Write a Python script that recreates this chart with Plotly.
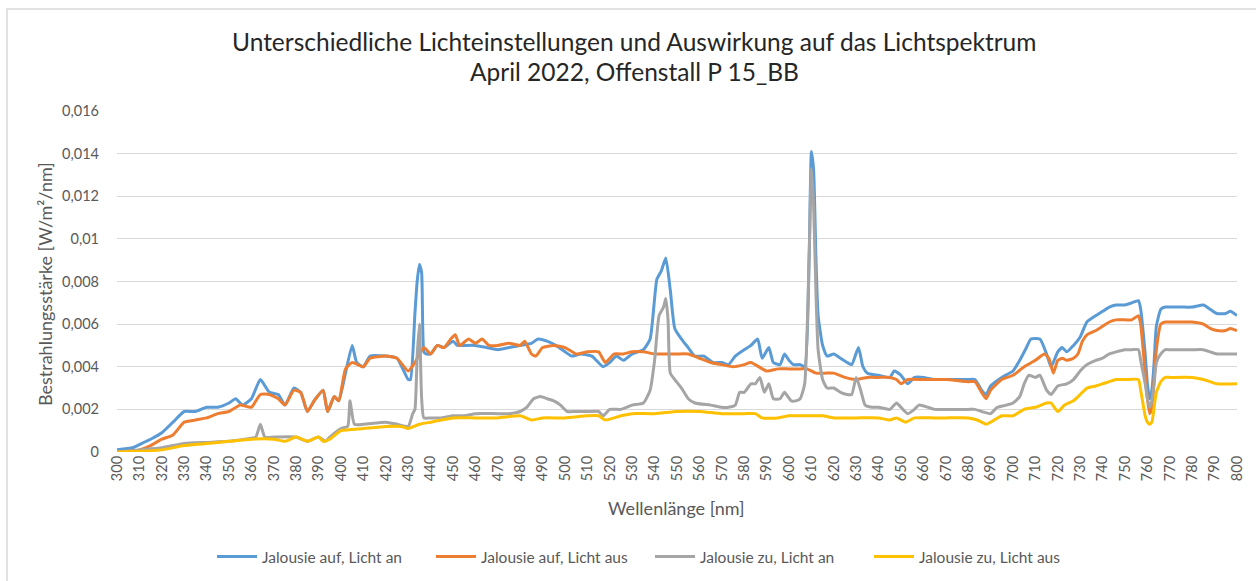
import plotly.graph_objects as go

# ---------------- data ----------------
title_lines = ["Unterschiedliche Lichteinstellungen und Auswirkung auf das Lichtspektrum",
               "April 2022, Offenstall P 15_BB"]
series_names = ["Jalousie auf, Licht an", "Jalousie auf, Licht aus",
                "Jalousie zu, Licht an", "Jalousie zu, Licht aus"]
series_colors = ["#5B9BD5", "#ED7D31", "#A5A5A5", "#FFC000"]

wl_auf_an = [300, 307, 310, 315, 320, 325, 330, 335, 340, 345, 350, 353, 356, 360, 364, 368, 372, 375,
             379, 382, 385, 388, 392, 394, 397, 399, 402, 405, 407, 410, 413, 420, 425, 430, 431, 433,
             434, 435, 436, 437, 438, 440, 443, 446, 450, 452, 455, 460, 465, 470, 475, 480, 485, 488,
             492, 496, 500, 503, 507, 512, 517, 520, 523, 526, 530, 535, 538, 541, 543, 545, 547, 549,
             552, 555, 558, 562, 566, 570, 573, 576, 580, 583, 586, 588, 591, 593, 596, 598, 600, 602,
             605, 607, 609, 610, 611, 612, 613, 615, 617, 620, 623, 626, 628, 631, 633, 635, 640, 645,
             647, 650, 653, 656, 660, 665, 670, 680, 683, 686, 688, 690, 695, 700, 703, 706, 708, 712,
             715, 717, 720, 722, 724, 727, 730, 733, 737, 740, 743, 746, 750, 753, 756, 757, 759, 760,
             761, 762, 763, 764, 766, 768, 770, 775, 780, 785, 788, 791, 795, 797, 800]
val_auf_an = [0.0001, 0.0002, 0.00035, 0.0006, 0.0009, 0.0014, 0.0019, 0.0019, 0.0021, 0.0021, 0.0023,
              0.0025, 0.0022, 0.0025, 0.0034, 0.0028, 0.0027, 0.0022, 0.0030, 0.0028, 0.0019, 0.0024,
              0.0029, 0.0019, 0.0026, 0.0024, 0.0037, 0.0050, 0.0042, 0.0040, 0.0045, 0.0045, 0.0044,
              0.0034, 0.0034, 0.0065, 0.0080, 0.0088, 0.0084, 0.0047, 0.0046, 0.0046, 0.0050, 0.0049,
              0.0052, 0.0050, 0.0050, 0.0050, 0.0049, 0.0048, 0.0049, 0.0050, 0.0051, 0.0053, 0.0052,
              0.0050, 0.0047, 0.0045, 0.0046, 0.0045, 0.0040, 0.0042, 0.0045, 0.0043, 0.0046, 0.0048,
              0.0053, 0.0081, 0.0085, 0.0091, 0.0076, 0.0058, 0.0053, 0.0049, 0.0045, 0.0045, 0.0042,
              0.0042, 0.0041, 0.0045, 0.0048, 0.0050, 0.0053, 0.0044, 0.0049, 0.0042, 0.0041, 0.0046,
              0.0043, 0.0041, 0.0041, 0.0040, 0.0092, 0.0141, 0.0132, 0.0092, 0.0064, 0.0050, 0.0045,
              0.0046, 0.0044, 0.0042, 0.0041, 0.0049, 0.0040, 0.0037, 0.0036, 0.0035, 0.0038, 0.0036,
              0.0032, 0.0035, 0.0035, 0.0034, 0.0034, 0.0034, 0.0034, 0.0029, 0.0027, 0.0031, 0.0035,
              0.0038, 0.0043, 0.0049, 0.0053, 0.0053, 0.0046, 0.0040, 0.0047, 0.0049, 0.0047, 0.0050,
              0.0054, 0.0061, 0.0064, 0.0066, 0.0068, 0.0069, 0.0069, 0.0070, 0.0071, 0.0067, 0.0046,
              0.0032, 0.0025, 0.0029, 0.0042, 0.0059, 0.0067, 0.0068, 0.0068, 0.0068, 0.0068, 0.0069,
              0.0067, 0.0065, 0.0065, 0.0066, 0.0064]

wl_auf_aus = [300, 310, 315, 320, 325, 330, 335, 340, 345, 350, 355, 360, 364, 368, 372, 375, 379, 382,
              385, 388, 392, 394, 397, 399, 402, 405, 410, 413, 420, 425, 430, 433, 437, 440, 443, 446,
              449, 451, 453, 457, 460, 463, 466, 470, 475, 480, 482, 485, 487, 490, 495, 500, 505, 510,
              515, 518, 522, 526, 530, 535, 540, 545, 550, 555, 560, 565, 570, 575, 580, 583, 590, 595,
              600, 605, 608, 612, 616, 620, 625, 630, 635, 640, 645, 648, 650, 653, 660, 670, 680, 683,
              686, 688, 690, 695, 700, 705, 710, 714, 716, 718, 720, 722, 724, 727, 729, 731, 733, 737,
              740, 743, 746, 750, 753, 756, 757, 759, 760, 761, 762, 763, 764, 766, 768, 770, 775, 780,
              785, 788, 791, 795, 797, 800]
val_auf_aus = [0.0000, 0.0001, 0.0003, 0.0006, 0.0008, 0.0014, 0.0015, 0.0016, 0.0018, 0.0019, 0.0022,
               0.0021, 0.0027, 0.0027, 0.0025, 0.0022, 0.0029, 0.0028, 0.0019, 0.0024, 0.0029, 0.0019,
               0.0026, 0.0024, 0.0039, 0.0042, 0.0040, 0.0044, 0.0045, 0.0044, 0.0038, 0.0042, 0.0049,
               0.0046, 0.0050, 0.0049, 0.0053, 0.0055, 0.0050, 0.0053, 0.0051, 0.0053, 0.0050, 0.0050,
               0.0051, 0.0050, 0.0052, 0.0046, 0.0045, 0.0049, 0.0050, 0.0049, 0.0046, 0.0047, 0.0047,
               0.0042, 0.0046, 0.0046, 0.0047, 0.0047, 0.0046, 0.0046, 0.0046, 0.0046, 0.0044, 0.0042,
               0.0041, 0.0040, 0.0041, 0.0042, 0.0038, 0.0039, 0.0039, 0.0039, 0.0039, 0.0037, 0.0037,
               0.0037, 0.0035, 0.0034, 0.0035, 0.0035, 0.0035, 0.0034, 0.0032, 0.0034, 0.0034, 0.0034,
               0.0033, 0.0033, 0.0028, 0.0025, 0.0029, 0.0034, 0.0036, 0.0040, 0.0043, 0.0046, 0.0044,
               0.0037, 0.0043, 0.0044, 0.0043, 0.0044, 0.0046, 0.0052, 0.0055, 0.0057, 0.0059, 0.0061,
               0.0062, 0.0062, 0.0062, 0.0064, 0.0060, 0.0037, 0.0025, 0.0018, 0.0021, 0.0034, 0.0048,
               0.0060, 0.0061, 0.0061, 0.0061, 0.0061, 0.0060, 0.0058, 0.0057, 0.0057, 0.0058, 0.0057]

wl_zu_an = [300, 310, 320, 330, 340, 350, 360, 362, 364, 366, 370, 380, 385, 390, 393, 395, 400, 403,
            404, 406, 410, 420, 425, 430, 432, 433, 434, 435, 436, 437, 440, 445, 450, 455, 460, 470,
            475, 480, 483, 486, 489, 492, 495, 498, 501, 505, 510, 515, 517, 520, 525, 530, 535, 538,
            540, 542, 544, 545, 546, 547, 549, 552, 555, 558, 565, 570, 573, 576, 578, 580, 583, 585,
            587, 589, 591, 593, 596, 598, 601, 603, 605, 607, 609, 610, 611, 612, 613, 615, 617, 620,
            623, 626, 628, 630, 632, 634, 637, 640, 645, 648, 650, 653, 656, 658, 662, 665, 670, 680,
            683, 686, 690, 693, 697, 700, 703, 705, 707, 710, 712, 715, 717, 720, 724, 727, 730, 733,
            737, 740, 743, 746, 750, 753, 756, 757, 759, 760, 761, 762, 763, 764, 766, 768, 770, 780,
            785, 788, 791, 795, 797, 800]
val_zu_an = [0.0000, 0.0001, 0.0002, 0.0004, 0.00045, 0.0005, 0.00065, 0.0007, 0.0013, 0.0007, 0.0007,
             0.0007, 0.0005, 0.0007, 0.0005, 0.0007, 0.0011, 0.0012, 0.0024, 0.0013, 0.0013, 0.0014,
             0.0013, 0.0012, 0.0018, 0.0020, 0.0045, 0.0060, 0.0025, 0.0016, 0.0016, 0.0016, 0.0017,
             0.0017, 0.0018, 0.0018, 0.0018, 0.0019, 0.0021, 0.0025, 0.0026, 0.0025, 0.0024, 0.0022,
             0.0019, 0.0019, 0.0019, 0.0019, 0.0017, 0.0020, 0.0020, 0.0022, 0.0023, 0.0029, 0.0043,
             0.0064, 0.0068, 0.0072, 0.0062, 0.0037, 0.0034, 0.0030, 0.0025, 0.0023, 0.0022, 0.0021,
             0.0021, 0.0022, 0.0028, 0.0028, 0.0032, 0.0032, 0.0035, 0.0028, 0.0032, 0.0025, 0.0025,
             0.0028, 0.0024, 0.0024, 0.0025, 0.0032, 0.0092, 0.0133, 0.0115, 0.0076, 0.0048, 0.0034,
             0.0030, 0.0030, 0.0028, 0.0027, 0.0027, 0.0035, 0.0029, 0.0022, 0.0021, 0.0021, 0.0020,
             0.0023, 0.0021, 0.0018, 0.0020, 0.0022, 0.0021, 0.0020, 0.0020, 0.0020, 0.0020, 0.0019,
             0.0018, 0.0021, 0.0022, 0.0023, 0.0026, 0.0032, 0.0036, 0.0035, 0.0036, 0.0029, 0.0027,
             0.0031, 0.0032, 0.0034, 0.0038, 0.0041, 0.0043, 0.0044, 0.0046, 0.0047, 0.0048, 0.0048,
             0.0048, 0.0043, 0.0032, 0.0025, 0.0021, 0.0024, 0.0032, 0.0042, 0.0046, 0.0048, 0.0048,
             0.0048, 0.0048, 0.0047, 0.0046, 0.0046, 0.0046, 0.0046]

wl_zu_aus = [300, 310, 320, 330, 340, 350, 360, 370, 375, 380, 385, 390, 392, 395, 400, 410, 420, 427,
             430, 435, 440, 445, 450, 460, 470, 480, 485, 490, 500, 510, 515, 518, 525, 530, 540, 550,
             560, 570, 580, 585, 588, 595, 600, 605, 610, 615, 620, 630, 640, 645, 648, 652, 656, 665,
             670, 680, 684, 686, 688, 690, 695, 700, 705, 710, 715, 717, 720, 723, 727, 730, 733, 737,
             740, 743, 746, 750, 756, 757, 759, 760, 761, 762, 763, 764, 766, 768, 770, 780, 785, 788,
             791, 800]
val_zu_aus = [0.0000, 0.00003, 0.0001, 0.0003, 0.0004, 0.0005, 0.0006, 0.0006, 0.0005, 0.0007, 0.0005,
              0.0007, 0.0005, 0.0006, 0.0010, 0.0011, 0.0012, 0.0012, 0.0011, 0.0013, 0.0014, 0.0015,
              0.0016, 0.0016, 0.0016, 0.0017, 0.0015, 0.0016, 0.0016, 0.0017, 0.0017, 0.0015, 0.0017,
              0.0018, 0.0018, 0.0019, 0.0019, 0.0018, 0.0018, 0.0018, 0.0016, 0.0016, 0.0017, 0.0017,
              0.0017, 0.0017, 0.0016, 0.0016, 0.0016, 0.0015, 0.0016, 0.0014, 0.0016, 0.0016, 0.0016,
              0.0016, 0.0015, 0.0014, 0.0013, 0.0014, 0.0017, 0.0017, 0.0020, 0.0021, 0.0023, 0.0023,
              0.0019, 0.0022, 0.0024, 0.0027, 0.0030, 0.0031, 0.0032, 0.0033, 0.0034, 0.0034, 0.0034,
              0.0029, 0.0017, 0.0014, 0.0013, 0.0014, 0.0021, 0.0028, 0.0033, 0.0035, 0.0035, 0.0035,
              0.0034, 0.0033, 0.0032, 0.0032]

x_ticks = list(range(300, 801, 10))
y_ticks = [0, 0.002, 0.004, 0.006, 0.008, 0.01, 0.012, 0.014, 0.016]

# ---------------- figure ----------------
FONT = "Lato, 'Open Sans', sans-serif"
TXT = "#595959"

fig = go.Figure()
for name, color, xs, ys in zip(series_names, series_colors,
                               [wl_auf_an, wl_auf_aus, wl_zu_an, wl_zu_aus],
                               [val_auf_an, val_auf_aus, val_zu_an, val_zu_aus]):
    fig.add_trace(go.Scatter(x=xs, y=ys, mode="lines", name=name,
                             line=dict(color=color, width=3, shape="spline", smoothing=0.5)))

W, H = 1256, 581
L, R, T, B = 117, 19, 111, 129
pw, ph = W - L - R, H - T - B

def px_x(p):
    return (p - L) / pw

def px_y(p):
    return (H - B - p) / ph

annotations = [
    dict(text=title_lines[0], xref="paper", yref="paper", x=px_x(634), y=px_y(42),
         xanchor="center", yanchor="middle", showarrow=False,
         font=dict(size=24.5, color="#262626", family=FONT)),
    dict(text=title_lines[1], xref="paper", yref="paper", x=px_x(634), y=px_y(71),
         xanchor="center", yanchor="middle", showarrow=False,
         font=dict(size=24.5, color="#262626", family=FONT)),
    dict(text="Wellenlänge [nm]", xref="paper", yref="paper", x=px_x(676), y=px_y(508),
         xanchor="center", yanchor="middle", showarrow=False,
         font=dict(size=18, color=TXT, family=FONT)),
    dict(text="Bestrahlungsstärke [W/m²/nm]", xref="paper", yref="paper", x=px_x(45), y=px_y(284),
         xanchor="center", yanchor="middle", showarrow=False, textangle=-90,
         font=dict(size=18, color=TXT, family=FONT)),
]

fig.update_layout(
    width=W, height=H,
    margin=dict(l=L, r=R, t=T, b=B, autoexpand=False),
    paper_bgcolor="white", plot_bgcolor="white",
    separators=",.",
    font=dict(family=FONT, color=TXT, size=15),
    showlegend=True,
    legend=dict(orientation="h", x=px_x(650), xanchor="center",
                yref="container", y=1 - 557 / H, yanchor="middle",
                font=dict(size=15.5, color=TXT), itemwidth=40, tracegroupgap=0,
                entrywidth=164),
    xaxis=dict(range=[300, 800], tickmode="array", tickvals=x_ticks,
               ticktext=[str(v) for v in x_ticks], tickangle=-90,
               showgrid=False, zeroline=False, showline=False, ticks="",
               tickfont=dict(size=14.5, color=TXT)),
    yaxis=dict(range=[0, 0.016], tickmode="array", tickvals=y_ticks,
               ticktext=[("%g" % v).replace(".", ",") for v in y_ticks],
               showgrid=True, gridcolor="#D9D9D9", gridwidth=1,
               zeroline=False, showline=False, ticks="", ticklabelstandoff=17,
               tickfont=dict(size=14.5, color=TXT)),
    annotations=annotations,
    shapes=[dict(type="rect", xref="paper", yref="paper",
                 x0=px_x(7), x1=px_x(1270), y0=px_y(595), y1=px_y(9),
                 line=dict(color="#D9D9D9", width=1.5), layer="below")],
)

fig.write_html("out.html", config={"displayModeBar": False},
               post_script="document.body.style.margin='0';document.body.style.overflow='hidden';")
